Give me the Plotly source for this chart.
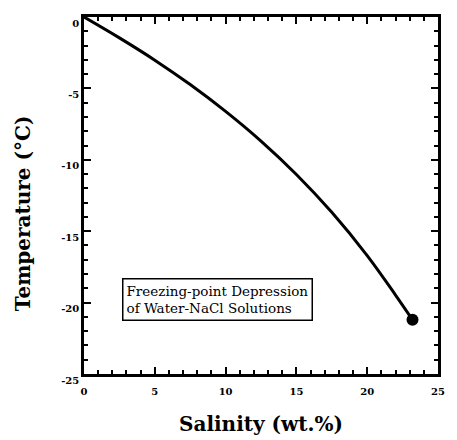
import plotly.graph_objects as go

# Freezing-point curve of H2O-NaCl solutions
salinity = [0, 2.5, 5, 7.5, 10, 12.5, 15, 17.5, 20, 22, 23.2]
temperature = [0, -1.46, -3.02, -4.73, -6.61, -8.69, -11.03, -13.68, -16.71, -19.47, -21.2]

# eutectic end point
eutectic_salinity = [23.2]
eutectic_temperature = [-21.2]

x_ticks = [0, 5, 10, 15, 20, 25]
y_ticks = [0, -5, -10, -15, -20, -25]

SERIF = "DejaVu Serif"

fig = go.Figure()
fig.add_trace(go.Scatter(
    x=salinity, y=temperature, mode="lines",
    line=dict(color="black", width=3, shape="spline"),
    hoverinfo="skip",
))
fig.add_trace(go.Scatter(
    x=eutectic_salinity, y=eutectic_temperature, mode="markers",
    marker=dict(color="black", size=12),
    hoverinfo="skip",
))

axis_common = dict(
    showline=True, linecolor="black", linewidth=2.5, mirror="allticks",
    ticks="inside", ticklen=7, tickwidth=2, tickcolor="black",
    showgrid=False, zeroline=False,
    tickfont=dict(family=SERIF, size=10, color="black"),
    minor=dict(ticks="inside", ticklen=4, tickwidth=1.5, tickcolor="black", dtick=1),
)

fig.update_xaxes(range=[0, 25], tickvals=x_ticks,
                 ticktext=[f"<b>{v}</b>" for v in x_ticks],
                 ticklabelstandoff=6, **axis_common)
fig.update_yaxes(range=[-25, 0], tickvals=y_ticks,
                 ticktext=[f"<b>{v}</b>" for v in y_ticks],
                 ticklabelshift=6, **axis_common)

fig.add_annotation(
    x=0.5, y=-0.14, xref="paper", yref="paper", showarrow=False,
    text="<b>Salinity (wt.%)</b>", xanchor="center", yanchor="middle",
    font=dict(family=SERIF, size=20, color="black"),
)
fig.add_annotation(
    x=-0.17, y=0.45, xref="paper", yref="paper", showarrow=False,
    text="<b>Temperature (°C)</b>", textangle=-90, xanchor="center", yanchor="middle",
    font=dict(family=SERIF, size=20, color="black"),
)
fig.add_annotation(
    x=2.7, y=-19.8, xref="x", yref="y", showarrow=False,
    text="Freezing-point Depression<br>of Water-NaCl Solutions",
    xanchor="left", yanchor="middle", align="left",
    font=dict(family=SERIF, size=13.5, color="black"),
    bordercolor="black", borderwidth=1.5, borderpad=3, bgcolor="white",
)

fig.update_layout(
    width=457, height=440,
    margin=dict(l=84, r=12, t=17, b=66),
    paper_bgcolor="white", plot_bgcolor="white",
    showlegend=False,
)

fig.write_html("out.html")
